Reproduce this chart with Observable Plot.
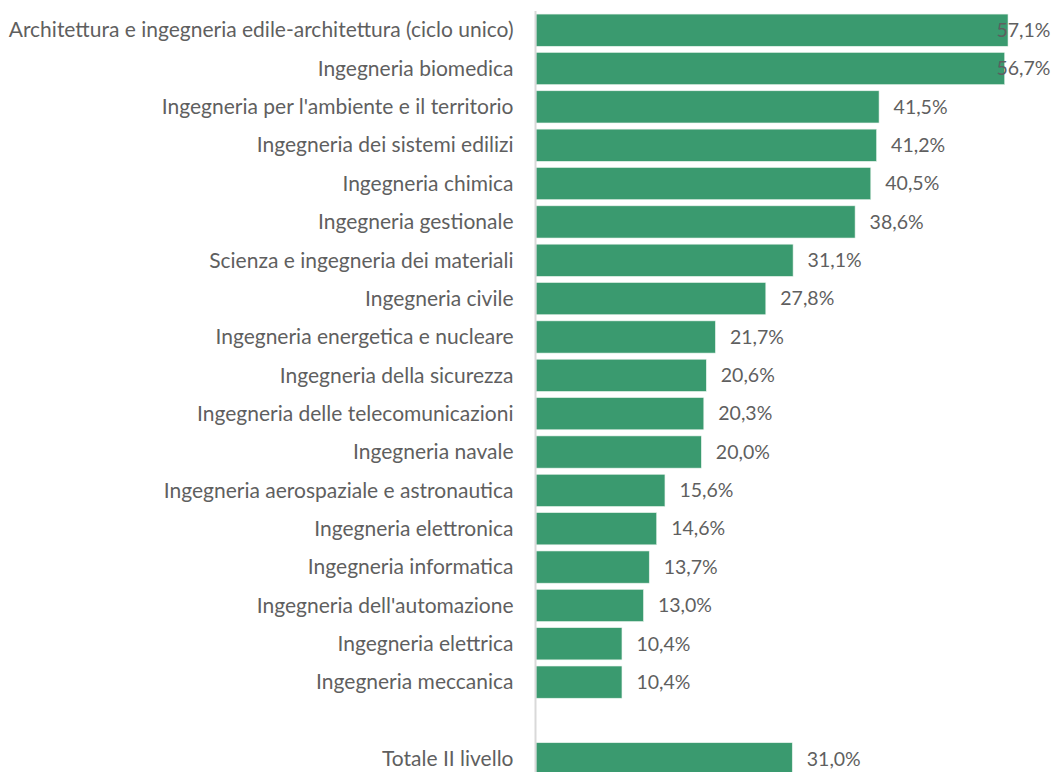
<!DOCTYPE html>
<html>
<head>
<meta charset="utf-8">
<script src="https://cdn.jsdelivr.net/npm/d3@7"></script>
<script src="https://cdn.jsdelivr.net/npm/@observablehq/plot@0.6"></script>
<style>
  html, body { margin: 0; padding: 0; background: #fff; overflow: hidden; }
  #chart svg { display: block; }
</style>
</head>
<body>
<div id="chart"></div>
<script>
const categories = [
  "Architettura e ingegneria edile-architettura (ciclo unico)",
  "Ingegneria biomedica",
  "Ingegneria per l'ambiente e il territorio",
  "Ingegneria dei sistemi edilizi",
  "Ingegneria chimica",
  "Ingegneria gestionale",
  "Scienza e ingegneria dei materiali",
  "Ingegneria civile",
  "Ingegneria energetica e nucleare",
  "Ingegneria della sicurezza",
  "Ingegneria delle telecomunicazioni",
  "Ingegneria navale",
  "Ingegneria aerospaziale e astronautica",
  "Ingegneria elettronica",
  "Ingegneria informatica",
  "Ingegneria dell'automazione",
  "Ingegneria elettrica",
  "Ingegneria meccanica",
  "",
  "Totale II livello"
];
const values = [57.1, 56.7, 41.5, 41.2, 40.5, 38.6, 31.1, 27.8, 21.7, 20.6, 20.3, 20.0, 15.6, 14.6, 13.7, 13.0, 10.4, 10.4, null, 31.0];

const data = categories.map((c, i) => ({category: c, value: values[i]})).filter(d => d.value != null);
const fmt = v => v.toFixed(1).replace(".", ",") + "%";
const fontFamily = "Lato, 'Liberation Sans', Arial, sans-serif";
const green = "#3a9a6f";
const gray = "#5f5f5f";

const chart = Plot.plot({
  width: 1052,
  height: 772,
  marginTop: 11,
  marginBottom: 0,
  marginLeft: 536,
  marginRight: 20,
  style: {fontFamily, fontSize: "21px", color: gray, background: "#fff"},
  x: {domain: [0, 60], axis: null},
  y: {domain: categories, range: [11, 778], round: false, paddingInner: 0.16, paddingOuter: 0.08, label: null, tickSize: 0, tickPadding: 23},
  marks: [
    Plot.barX(data, {x: "value", y: "category", fill: green, stroke: "#e8f3ec", strokeWidth: 0.6}),
    Plot.ruleX([0], {stroke: "#d9d9d9", strokeWidth: 2, dx: -1}),
    Plot.text(data.filter(d => d.value <= 54), {x: "value", y: "category", text: d => fmt(d.value), textAnchor: "start", dx: 14, fill: gray, fontSize: 19.5}),
    Plot.text(data.filter(d => d.value > 54), {frameAnchor: "right", y: "category", text: d => fmt(d.value), textAnchor: "end", dx: 18, fill: gray, fontSize: 19.5})
  ]
});
document.getElementById("chart").appendChild(chart);
</script>
</body>
</html>
